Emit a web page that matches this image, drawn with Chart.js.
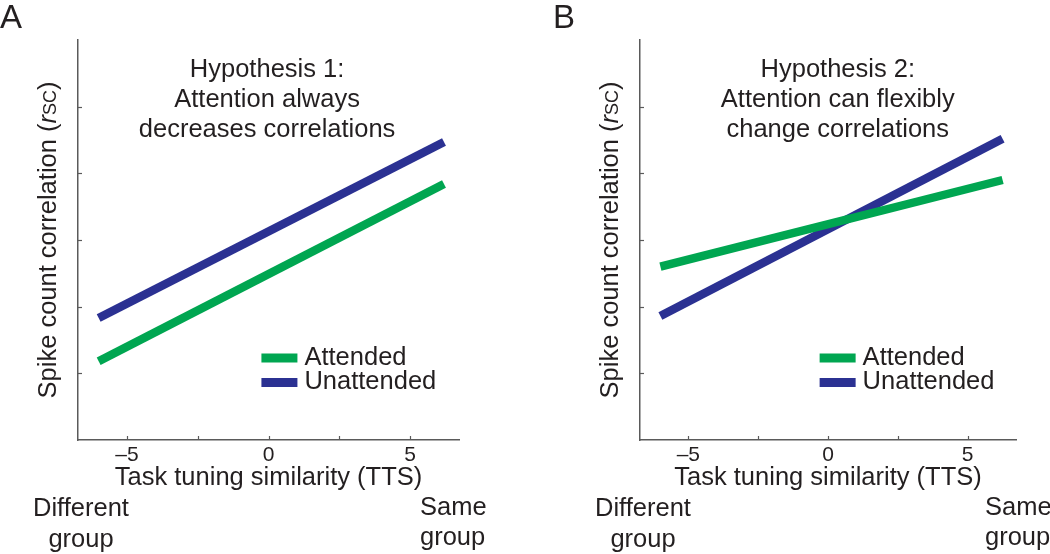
<!DOCTYPE html>
<html>
<head>
<meta charset="utf-8">
<script src="https://cdn.jsdelivr.net/npm/chart.js@4.4.1/dist/chart.umd.min.js"></script>
<style>
  html, body { margin: 0; padding: 0; background: #fff; }
  #wrap { position: relative; width: 1050px; height: 554px; }
  canvas { position: absolute; top: 0; }
  #chart-a { left: 0; }
  #chart-b { left: 520px; }
</style>
</head>
<body>
<div id="wrap">
  <canvas id="chart-a" width="520" height="554"></canvas>
  <canvas id="chart-b" width="530" height="554"></canvas>
</div>
<script>
const seriesLabels = ["Attended", "Unattended"];
const seriesColors = ["#00a651", "#2b3192"];
const xTickValues = [-5, -2.5, 0, 2.5, 5];
const xTickLabels = ["–5", "", "0", "", "5"];
const yTickValues = [1, 2, 3, 4, 5];

// panel A: attention lowers rsc everywhere
const ttsA = [-6, 6.2];
const attendedA = [1.18, 3.84];
const unattendedA = [1.83, 4.47];

// panel B: the two lines cross near TTS = 0
const ttsB = [-6, 6.25];
const attendedB = [2.6, 3.9];
const unattendedB = [1.86, 4.52];

const FONT = "'Liberation Sans', Arial, Helvetica, sans-serif";
const axisColor = "#5a5a5a";
const textColor = "#231f20";

function font(size, style) {
  return (style ? style + " " : "") + size + "px " + FONT;
}

// inward ticks, titles, legend and the end labels
const panelText = {
  id: "panelText",
  afterDraw(chart, args, opts) {
    const ctx = chart.ctx;
    const area = chart.chartArea;
    const xs = chart.scales.x;
    const ys = chart.scales.y;
    ctx.save();

    ctx.strokeStyle = axisColor;
    ctx.lineWidth = 1.2;
    xs.ticks.forEach(t => {
      const p = Math.round(xs.getPixelForValue(t.value)) + 0.5;
      ctx.beginPath();
      ctx.moveTo(p, area.bottom);
      ctx.lineTo(p, area.bottom - 4);
      ctx.stroke();
    });
    ys.ticks.forEach(t => {
      const p = Math.round(ys.getPixelForValue(t.value)) + 0.5;
      ctx.beginPath();
      ctx.moveTo(area.left, p);
      ctx.lineTo(area.left + 4, p);
      ctx.stroke();
    });

    ctx.fillStyle = textColor;
    ctx.textBaseline = "alphabetic";

    // panel letter
    ctx.font = font(33);
    ctx.textAlign = "left";
    ctx.fillText(opts.letter, opts.letterX, 28);

    // hypothesis text
    ctx.font = font(25.5);
    ctx.textAlign = "center";
    const tx = xs.getPixelForValue(opts.titleAt);
    opts.title.forEach((line, i) => {
      ctx.fillText(line, tx, area.top + 36.5 + i * 30);
    });

    // y axis title with italic r and small SC
    const parts = [
      { t: "Spike count correlation (", f: font(25.5) },
      { t: "r", f: font(25.5, "italic") },
      { t: "SC", f: font(18) },
      { t: ")", f: font(25.5) }
    ];
    let total = 0;
    parts.forEach(p => { ctx.font = p.f; p.w = ctx.measureText(p.t).width; total += p.w; });
    ctx.translate(area.left - 22, (area.top + area.bottom) / 2);
    ctx.rotate(-Math.PI / 2);
    ctx.textAlign = "left";
    let px = -total / 2;
    parts.forEach(p => { ctx.font = p.f; ctx.fillText(p.t, px, 0); px += p.w; });
    ctx.setTransform(1, 0, 0, 1, 0, 0);

    // legend
    const lx = xs.getPixelForValue(opts.legendAt);
    ctx.font = font(25.5);
    ctx.textAlign = "left";
    chart.data.datasets.forEach((ds, i) => {
      const cy = area.bottom - 82 + i * 24.5;
      ctx.fillStyle = ds.borderColor;
      ctx.fillRect(lx, cy - 4.5, 36, 9);
      ctx.fillStyle = textColor;
      ctx.fillText(ds.label, lx + 43, cy + 6.5);
    });

    // group ends under the axis
    ctx.textAlign = "center";
    ctx.fillText("Different", area.left + 3, 516);
    ctx.fillText("group", area.left + 3, 547);
    ctx.textAlign = "left";
    ctx.fillText("Same", area.right + opts.sameOffset, 515);
    ctx.fillText("group", area.right + opts.sameOffset, 545);

    ctx.restore();
  }
};

function makePanel(canvasId, tts, attended, unattended, pad, extra) {
  const values = [attended, unattended];
  return new Chart(document.getElementById(canvasId), {
    type: "line",
    data: {
      datasets: values.map((vals, i) => ({
        label: seriesLabels[i],
        data: tts.map((x, j) => ({ x: x, y: vals[j] })),
        borderColor: seriesColors[i],
        backgroundColor: seriesColors[i],
        borderWidth: 8.5,
        pointRadius: 0,
        borderCapStyle: "butt",
        tension: 0
      }))
    },
    options: {
      responsive: false,
      animation: false,
      layout: { padding: pad },
      plugins: {
        legend: { display: false },
        tooltip: { enabled: false },
        panelText: extra
      },
      scales: {
        x: {
          type: "linear",
          min: -6.73,
          max: 6.73,
          afterBuildTicks: s => { s.ticks = xTickValues.map(v => ({ value: v })); },
          afterFit: s => { s.height = 53; },
          grid: { display: false, drawTicks: false },
          border: { display: true, color: axisColor, width: 1.5 },
          ticks: {
            padding: 2.5,
            color: textColor,
            font: { family: FONT, size: 21 },
            maxRotation: 0,
            callback: (v, i) => xTickLabels[i]
          },
          title: {
            display: true,
            text: "Task tuning similarity (TTS)",
            color: textColor,
            font: { family: FONT, size: 25.5 },
            padding: 0
          }
        },
        y: {
          type: "linear",
          min: 0,
          max: 6,
          afterBuildTicks: s => { s.ticks = yTickValues.map(v => ({ value: v })); },
          afterFit: s => { s.width = 0; },
          grid: { display: false, drawTicks: false },
          border: { display: true, color: axisColor, width: 1.5 },
          ticks: { display: false }
        }
      }
    },
    plugins: [panelText]
  });
}

makePanel("chart-a", ttsA, attendedA, unattendedA,
  { left: 78, right: 61, top: 40, bottom: 61 },
  {
    letter: "A", letterX: 0, titleAt: -0.05, legendAt: -0.25, sameOffset: -39,
    title: ["Hypothesis 1:", "Attention always", "decreases correlations"]
  });

makePanel("chart-b", ttsB, attendedB, unattendedB,
  { left: 120, right: 34, top: 40, bottom: 61 },
  {
    letter: "B", letterX: 33, titleAt: 0.35, legendAt: -0.3, sameOffset: -31,
    title: ["Hypothesis 2:", "Attention can flexibly", "change correlations"]
  });
</script>
</body>
</html>
